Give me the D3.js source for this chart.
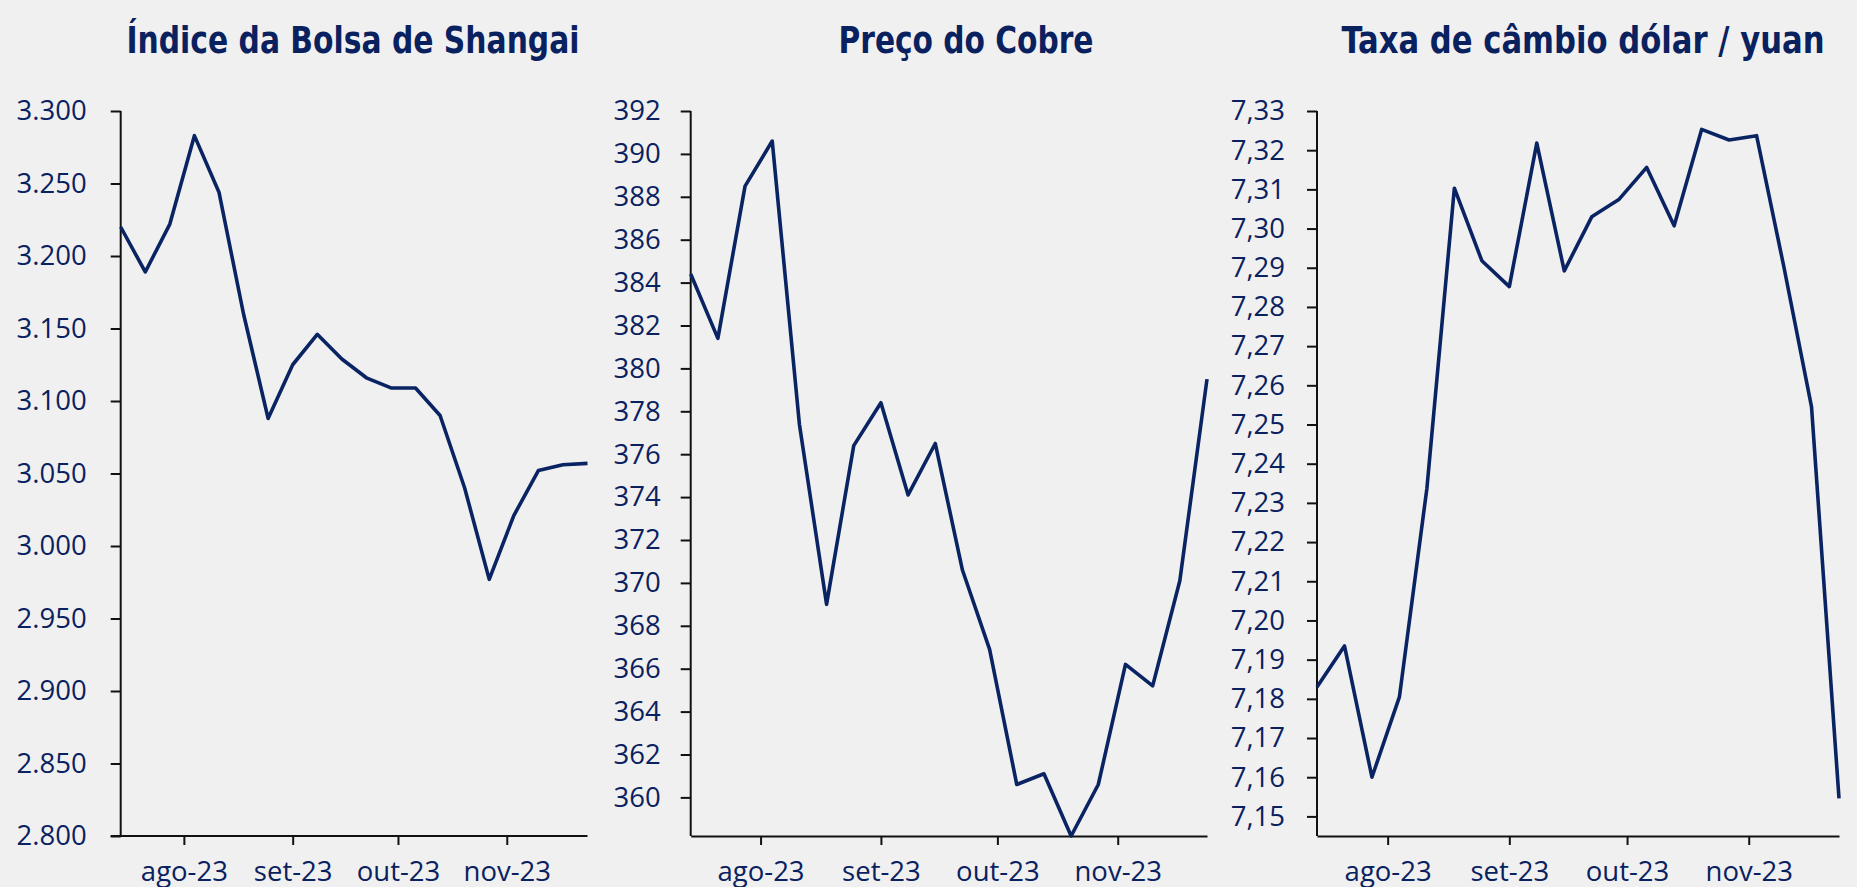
<!DOCTYPE html>
<html>
<head>
<meta charset="utf-8">
<script src="https://cdn.jsdelivr.net/npm/d3@7"></script>
<style>
  html, body { margin: 0; padding: 0; background: #f0f0f0; }
  svg { display: block; }
  .title { font-family: "Liberation Sans Narrow", "DejaVu Sans Condensed", "Open Sans", sans-serif; font-weight: bold; font-size: 38px; fill: #0a2160; }
  .tick text { font-family: "Open Sans", "Noto Sans", sans-serif; font-size: 27.5px; fill: #0a2160; }
  .domain, .tick line { stroke: #111; stroke-width: 2px; }
</style>
</head>
<body>
<svg id="chart" width="1857" height="887"></svg>
<script>
// ---- data ----
const dates = ["2023-07-14","2023-07-21","2023-07-28","2023-08-04","2023-08-11","2023-08-18","2023-08-25",
  "2023-09-01","2023-09-08","2023-09-15","2023-09-22","2023-09-29","2023-10-06","2023-10-13","2023-10-20",
  "2023-10-27","2023-11-03","2023-11-10","2023-11-17","2023-11-24"];

const shanghai = [3220, 3189, 3222, 3283, 3244, 3160, 3088, 3125, 3146, 3129, 3116, 3109, 3109, 3090, 3040, 2977, 3021, 3052, 3056, 3057];
const copper = [384.4, 381.4, 388.5, 390.6, 377.4, 369.0, 376.4, 378.4, 374.1, 376.5, 370.6, 366.9, 360.6, 361.1, 358.2, 360.6, 366.2, 365.2, 370.1, 379.5];
const usdcny = [7.183, 7.1935, 7.160, 7.1805, 7.2337, 7.3103, 7.2918, 7.2852, 7.3218, 7.2892, 7.3030, 7.3075, 7.3156, 7.3007, 7.3253, 7.3226, 7.3237, 7.290, 7.2545, 7.1546];

const titles = ["Índice da Bolsa de Shangai", "Preço do Cobre", "Taxa de câmbio dólar / yuan"];
const monthTicks = ["2023-08-01", "2023-09-01", "2023-10-01", "2023-11-01"];
const monthLabels = ["ago-23", "set-23", "out-23", "nov-23"];

const shanghaiTicks = d3.range(2800, 3301, 50);
const copperTicks = d3.range(360, 393, 2);
const usdcnyTicks = d3.range(715, 734).map(v => v / 100);

// ---- layout ----
const locale = d3.formatLocale({ decimal: ",", thousands: ".", grouping: [3], currency: ["R$", ""] });
const parse = d3.utcParse("%Y-%m-%d");
const dateVals = dates.map(parse);
const tickDates = monthTicks.map(parse);

const panels = [
  { title: titles[0], values: shanghai, yDomain: [2800, 3300], yTicks: shanghaiTicks, fmt: locale.format(",.0f"),
    x0: 120.7, x1: 587.5, pad: 24, titleX: 353, titleW: 453, extend: true },
  { title: titles[1], values: copper, yDomain: [358.2, 392], yTicks: copperTicks, fmt: locale.format(".0f"),
    x0: 690.7, x1: 1207, pad: 20, titleX: 966, titleW: 255, extend: false },
  { title: titles[2], values: usdcny, yDomain: [7.145, 7.33], yTicks: usdcnyTicks, fmt: locale.format(".2f"),
    x0: 1317, x1: 1839, pad: 22, titleX: 1583, titleW: 483, extend: false }
];

const yTop = 111, yBottom = 836;
const svg = d3.select("#chart");

panels.forEach(p => {
  const x = d3.scaleUtc().domain([dateVals[0], dateVals[dateVals.length - 1]]).range([p.x0, p.x1]);
  const y = d3.scaleLinear().domain(p.yDomain).range([yBottom, yTop]);

  svg.append("text").attr("class", "title")
    .attr("x", p.titleX).attr("y", 53).attr("text-anchor", "middle")
    .attr("textLength", p.titleW).attr("lengthAdjust", "spacingAndGlyphs")
    .text(p.title);

  // x axis
  const xAxis = d3.axisBottom(x).tickValues(tickDates)
    .tickFormat((d, i) => monthLabels[i]).tickSize(9).tickSizeOuter(0).tickPadding(16);
  const gx = svg.append("g").attr("transform", `translate(0,${yBottom})`).call(xAxis);
  if (p.extend) {
    gx.select(".domain").attr("d", `M${p.x0 - 10},0H${p.x1}`);
  }

  // y axis
  const yAxis = d3.axisLeft(y).tickValues(p.yTicks).tickFormat(p.fmt)
    .tickSize(10).tickSizeOuter(0).tickPadding(p.pad);
  const gy = svg.append("g").attr("transform", `translate(${p.x0},0)`).call(yAxis);
  gy.select(".domain").attr("d", `M0,${yTop}V${yBottom}`);

  // line
  const line = d3.line().x((d, i) => x(dateVals[i])).y(d => y(d));
  svg.append("path").datum(p.values)
    .attr("d", line)
    .attr("fill", "none")
    .attr("stroke", "#0a2463")
    .attr("stroke-width", 3.6)
    .attr("stroke-linejoin", "round");
});
</script>
</body>
</html>
